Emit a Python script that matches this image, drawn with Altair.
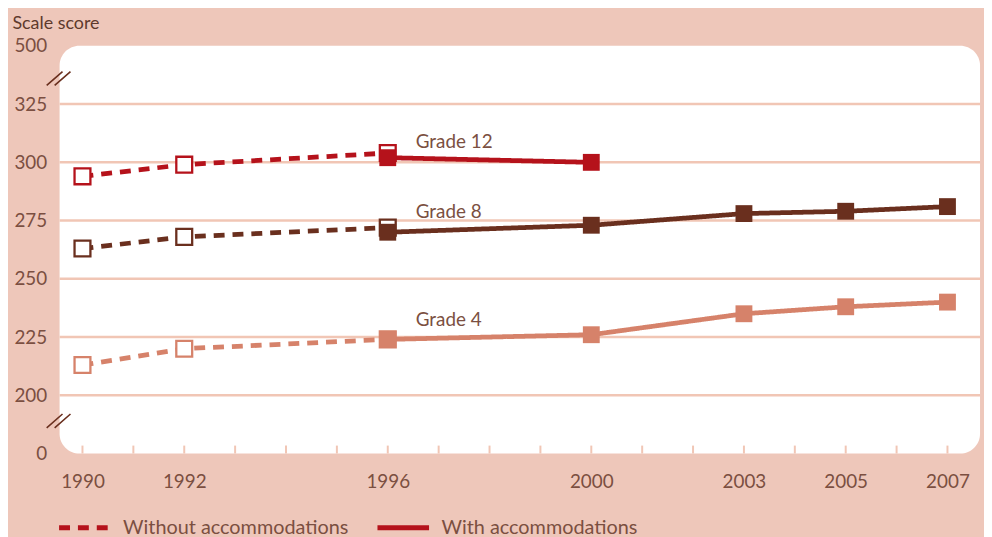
import altair as alt
import pandas as pd

# ---- data ----
GRADES = ["Grade 4", "Grade 8", "Grade 12"]
GRADE_COLORS = ["#d6826a", "#6a2f1e", "#b5121b"]

WITHOUT_YEARS = [1990, 1992, 1996]
WITHOUT_G4 = [213, 220, 224]
WITHOUT_G8 = [263, 268, 272]
WITHOUT_G12 = [294, 299, 304]

WITH_YEARS_G4 = [1996, 2000, 2003, 2005, 2007]
WITH_G4 = [224, 226, 235, 238, 240]
WITH_YEARS_G8 = [1996, 2000, 2003, 2005, 2007]
WITH_G8 = [270, 273, 278, 279, 281]
WITH_YEARS_G12 = [1996, 2000]
WITH_G12 = [302, 300]

ACC = ["Without accommodations", "With accommodations"]

X_LABEL_YEARS = [1990, 1992, 1996, 2000, 2003, 2005, 2007]
TICK_YEARS = list(range(1990, 2008))

# broken axis: 175 stands for 0, 350 stands for 500
Y_TICKS = [175, 200, 225, 250, 275, 300, 325, 350]
Y_LABELS = ["0", "200", "225", "250", "275", "300", "325", "500"]
GRID_VALUES = [200, 225, 250, 275, 300, 325]
BREAK_VALUES = [189, 336]

LABEL_TEXT = ["Grade 12", "Grade 8", "Grade 4"]
LABEL_YEAR = [1996.55, 1996.55, 1996.55]
LABEL_SCORE = [308.5, 278.5, 232.5]

# ---- build tables ----
rows = []
for g, vals in zip(GRADES, [WITHOUT_G4, WITHOUT_G8, WITHOUT_G12]):
    for y, v in zip(WITHOUT_YEARS, vals):
        rows.append(dict(year=y, score=v, grade=g, acc=ACC[0], series=g + ACC[0]))
for g, yrs, vals in zip(GRADES, [WITH_YEARS_G4, WITH_YEARS_G8, WITH_YEARS_G12],
                        [WITH_G4, WITH_G8, WITH_G12]):
    for y, v in zip(yrs, vals):
        rows.append(dict(year=y, score=v, grade=g, acc=ACC[1], series=g + ACC[1]))
df = pd.DataFrame(rows)

labels_df = pd.DataFrame(dict(text=LABEL_TEXT, year=LABEL_YEAR, score=LABEL_SCORE))
grid_df = pd.DataFrame(dict(score=GRID_VALUES))
ticks_df = pd.DataFrame(dict(year=TICK_YEARS))
breaks_df = pd.DataFrame(dict(score=BREAK_VALUES))

FONT = "Lato"
TEXT_COLOR = "#7b4f41"
BG = "#eec7ba"
GRID = "#f1c6b5"

label_expr = " : ".join(
    f"datum.value == {v} ? '{l}'" for v, l in zip(Y_TICKS, Y_LABELS)
) + " : ''"

x_scale = alt.Scale(domain=[1989.55, 2007.64], nice=False, zero=False)
y_scale = alt.Scale(domain=[175, 350], nice=False, zero=False)
color_scale = alt.Scale(domain=GRADES, range=GRADE_COLORS)

x_enc = alt.X(
    "year:Q", scale=x_scale, title=None,
    axis=alt.Axis(values=X_LABEL_YEARS, format="d", ticks=False, domain=False,
                  grid=False, labelFontSize=19, labelColor=TEXT_COLOR,
                  labelFont=FONT, labelPadding=19),
)
y_enc = alt.Y(
    "score:Q", scale=y_scale,
    axis=alt.Axis(values=Y_TICKS, labelExpr=label_expr, ticks=False, domain=False,
                  grid=False, labelFontSize=19, labelColor=TEXT_COLOR,
                  labelFont=FONT, labelPadding=13, labelBaseline="middle",
                  title="Scale score", titleAngle=0, titleAlign="left",
                  titleBaseline="alphabetic", titleX=-48, titleY=-18,
                  titleFontSize=18, titleFont=FONT, titleFontWeight="normal",
                  titleColor="#5e3a2d"),
)

grid = alt.Chart(grid_df).mark_rule(color=GRID, strokeWidth=2.5).encode(
    y=alt.Y("score:Q", scale=y_scale)
)

ticks = alt.Chart(ticks_df).mark_rule(color=GRID, strokeWidth=2).encode(
    x=alt.X("year:Q", scale=x_scale),
    y=alt.value(411), y2=alt.value(403),
)

lines = alt.Chart(df).mark_line(strokeWidth=4.8).encode(
    x=x_enc, y=y_enc,
    color=alt.Color("grade:N", scale=color_scale, legend=None),
    strokeDash=alt.StrokeDash(
        "acc:N",
        scale=alt.Scale(domain=ACC, range=[[11, 8], [1, 0]]),
        legend=alt.Legend(
            title=None, orient="none", legendX=-3, legendY=457,
            direction="horizontal", symbolType="stroke",
            symbolStrokeColor="#b5121b", symbolStrokeWidth=5,
            symbolSize=2704, labelFontSize=20, labelFont=FONT,
            labelColor=TEXT_COLOR, labelOffset=10, columnPadding=18,
            labelLimit=0,
        ),
    ),
    detail="series:N",
)

open_sq = alt.Chart(df).transform_filter(
    alt.datum.acc == ACC[0]
).mark_square(size=256, fill="white", strokeWidth=2.3, opacity=1).encode(
    x=alt.X("year:Q", scale=x_scale),
    y=alt.Y("score:Q", scale=y_scale),
    stroke=alt.Stroke("grade:N", scale=color_scale, legend=None),
)

filled_sq = alt.Chart(df).transform_filter(
    alt.datum.acc == ACC[1]
).mark_square(size=289, filled=True, opacity=1).encode(
    x=alt.X("year:Q", scale=x_scale),
    y=alt.Y("score:Q", scale=y_scale),
    color=alt.Color("grade:N", scale=color_scale, legend=None),
)

text = alt.Chart(labels_df).mark_text(
    align="left", baseline="middle", fontSize=19, font=FONT, color=TEXT_COLOR
).encode(
    x=alt.X("year:Q", scale=x_scale),
    y=alt.Y("score:Q", scale=y_scale),
    text="text:N",
)

breaks = alt.Chart(breaks_df).mark_point(
    shape="M-1,0.58L0.33,-0.58M-0.33,0.58L1,-0.58",
    size=576, stroke="#6a2f1e", strokeWidth=1.6, filled=False, opacity=1,
).encode(
    x=alt.value(-1),
    y=alt.Y("score:Q", scale=y_scale),
)

chart = alt.layer(grid, ticks, lines, open_sq, filled_sq, text, breaks).properties(
    width=928, height=411,
    padding={"left": 52, "top": 36, "right": 4, "bottom": 85},
    autosize="none",
).configure(background=BG).configure_view(
    fill="white", stroke=None, cornerRadius=20
)

chart.save("out.html", embed_options={"renderer": "svg", "actions": False})
